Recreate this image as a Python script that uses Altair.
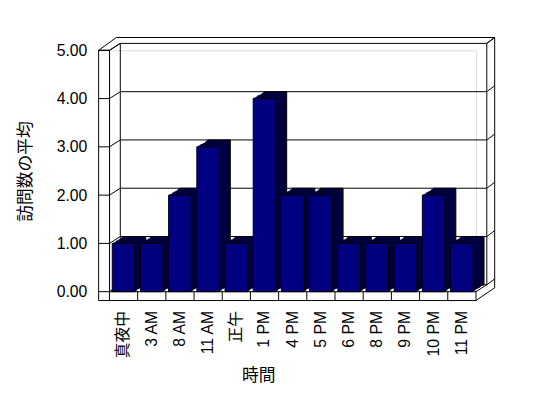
import altair as alt
import pandas as pd

# ---- data ----
categories = ["真夜中", "3 AM", "8 AM", "11 AM", "正午", "1 PM", "4 PM",
              "5 PM", "6 PM", "8 PM", "9 PM", "10 PM", "11 PM"]
values = [1, 1, 2, 3, 1, 4, 2, 2, 1, 1, 1, 2, 1]
y_ticks = [0, 1, 2, 3, 4, 5]

# ---- geometry / style ----
W, H = 372, 245          # front plane of the plot
DX, DY = 11, -7          # depth of the bars / back wall
OX, OY = 19, -13         # outer depth of the box
FLOOR = 9
WALL = 11
BAR_W = 23
FRONT = "#000080"
SIDE = "#000040"
FONT = "Liberation Sans, Noto Sans CJK JP"

df = pd.DataFrame({"cat": categories, "v": values})
ticks_df = pd.DataFrame({"t": y_ticks})

xscale = alt.Scale(domain=categories, paddingInner=0, paddingOuter=0)
yscale = alt.Scale(domain=[0, 5], nice=False, zero=True)

x_axis = alt.Axis(title="時間", labelAngle=270, offset=FLOOR, domain=False,
                  ticks=False, grid=False, labelPadding=10, labelFontSize=16,
                  labelFont=FONT, labelColor="black", titleFont=FONT,
                  titleFontSize=17, titleFontWeight="normal", titleColor="black",
                  titleX=151, titlePadding=10)
y_axis = alt.Axis(title="訪問数の平均", values=y_ticks, format=".2f", offset=WALL,
                  domain=False, ticks=False, grid=False, labelPadding=12,
                  labelFontSize=16, labelFont=FONT, labelColor="black",
                  titleFont=FONT, titleFontSize=17, titleFontWeight="normal",
                  titleColor="black", titlePadding=22)


def xenc(**kw):
    return alt.X("cat:N", scale=xscale, axis=x_axis, title="時間", **kw)


def yenc(field="v:Q"):
    return alt.Y(field, scale=yscale, axis=y_axis, title="訪問数の平均")


one = alt.Data(values=[{"a": 1}])


def seg(x1, y1, x2, y2):
    return alt.Chart(one).mark_rule(color="black", strokeWidth=1).encode(
        x=alt.value(x1), y=alt.value(y1), x2=alt.value(x2), y2=alt.value(y2))


frame_segments = [
    (-WALL, 0, -WALL, H + FLOOR),
    (-WALL, H + FLOOR, W, H + FLOOR),
    (-WALL, 0, -WALL + OX - 1, OY),
    (-WALL + OX - 1, OY, W + OX, OY),
    (W + OX, OY, W + OX, H + FLOOR + OY),
    (W, H + FLOOR, W + OX, H + FLOOR + OY),
    (-WALL, 0, 0, 0),
    (0, 0, 0, H),
    (0, 0, DX, DY),
    (DX, DY, DX, H + DY),
    (W + DX, DY, W + DX, H + DY),
    (W + DX, DY, W + OX, OY),
    (0, H, W, H),
    (W, H, W, H + FLOOR),
    (W, H, W + DX, H + DY),
]
frame = [seg(*s) for s in frame_segments]

back_lines = alt.Chart(ticks_df).mark_rule(color="black", yOffset=DY).encode(
    y=yenc("t:Q"), x=alt.value(DX), x2=alt.value(W + DX))
left_ticks = alt.Chart(ticks_df).mark_rule(color="black").encode(
    y=yenc("t:Q"), x=alt.value(-WALL), x2=alt.value(0))
left_diag = alt.Chart(ticks_df).mark_rule(color="black", y2Offset=DY).encode(
    y=yenc("t:Q"), y2=alt.Y2("t:Q"),
    x=alt.value(0), x2=alt.value(DX))
right_diag = alt.Chart(ticks_df).mark_rule(color="black", yOffset=DY, y2Offset=OY).encode(
    y=yenc("t:Q"), y2=alt.Y2("t:Q"),
    x=alt.value(W + DX), x2=alt.value(W + OX))
floor_sep = alt.Chart(df).mark_rule(color="black").encode(
    x=xenc(bandPosition=0), y=alt.value(H), y2=alt.value(H + FLOOR))

shadows = []
for k in range(1, DX + 1):
    dy = round(k * DY / DX)
    props = dict(width=BAR_W, color=SIDE, xOffset=k, yOffset=dy, y2Offset=dy)
    if k == DX:
        props.update(stroke="black", strokeWidth=1)
    shadows.append(alt.Chart(df).mark_bar(**props).encode(x=xenc(), y=yenc()))

front = alt.Chart(df).mark_bar(width=BAR_W, color=FRONT, stroke="black",
                               strokeWidth=1).encode(x=xenc(), y=yenc())

chart = alt.layer(
    *frame, back_lines, left_ticks, left_diag, right_diag, floor_sep,
    *shadows, front
).properties(
    width=W, height=H,
    autosize=alt.AutoSizeParams(type="none"),
    padding={"left": 103, "top": 40, "right": 65, "bottom": 105},
).configure_view(stroke=None).configure(background="white")

chart.save("out.html", embed_options={"renderer": "svg", "actions": False})
